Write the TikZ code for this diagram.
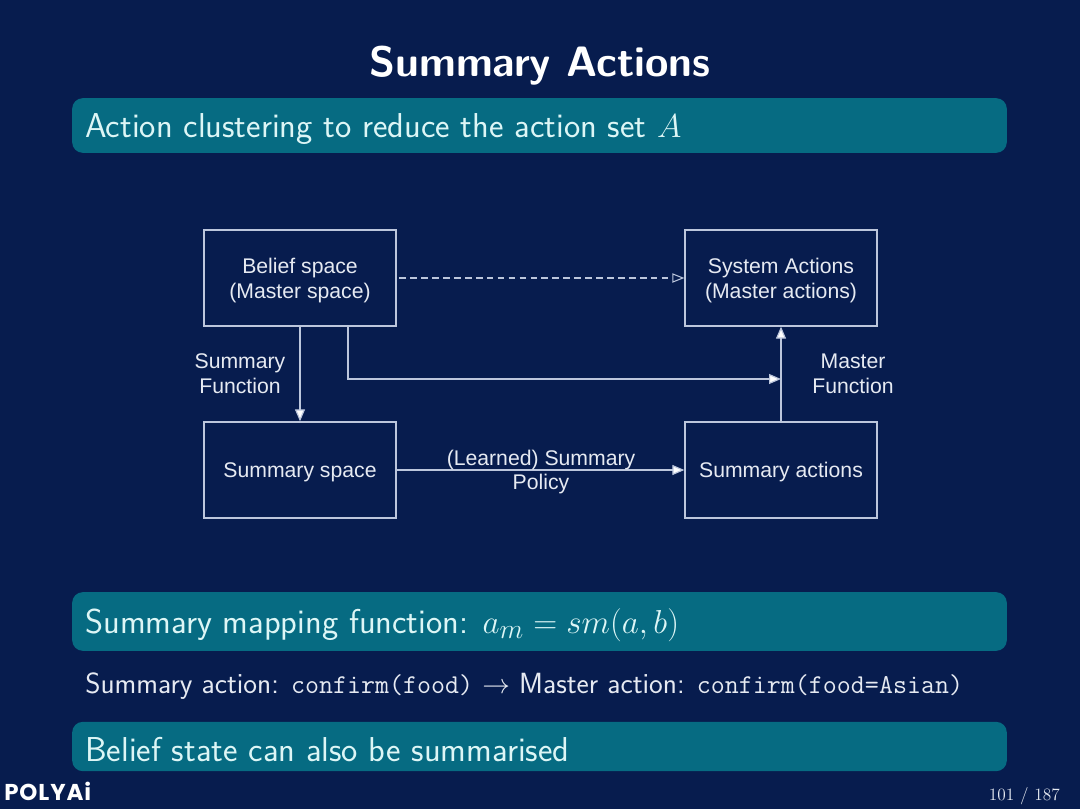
\documentclass[tikz,border=0pt]{standalone}
\usepackage{fontspec}
\usepackage{amsmath}
\usetikzlibrary{arrows.meta,calc}
\newfontfamily\diagfont{Liberation Sans}
\newfontfamily\logofont{Poppins}[UprightFont=* Bold,LetterSpace=4]
\definecolor{bgnavy}{HTML}{071C4E}
\definecolor{bannerteal}{HTML}{066B82}
\definecolor{bannertext}{HTML}{DDF6F6}
\definecolor{boxline}{HTML}{BCC6DC}
\definecolor{difftext}{HTML}{E6EAF2}
\newcommand{\lowerby}[2]{\raisebox{0pt}[\dimexpr\height+#1\relax][\depth]{#2}}
\tikzset{
  x=0.75pt,y=-0.75pt,
  banner/.style={fill=bannerteal,draw=none,rounded corners=8pt,inner sep=0pt},
  bannerlabel/.style={anchor=west,inner sep=0pt,text=bannertext,font=\sffamily\fontsize{25.9}{30}\selectfont},
  diagbox/.style={draw=boxline,line width=1pt,minimum width=144pt,minimum height=72pt,inner sep=0pt,align=center,text=difftext,font=\diagfont\fontsize{15.9}{18.75}\selectfont},
  diaglabel/.style={inner sep=0pt,align=center,text=difftext,font=\diagfont\fontsize{15.9}{18.5}\selectfont},
  flow/.style={draw=boxline,line width=0.9pt,-{Triangle[length=9pt,width=7.5pt,fill=white]}},
  dashflow/.style={draw=boxline,line width=0.8pt,dash pattern=on 5pt off 3.2pt,-{Triangle[open,length=9pt,width=7pt]}},
}
\begin{document}
\begin{tikzpicture}
\useasboundingbox (0,0) rectangle (1080,809);
\fill[bgnavy] (0,0) rectangle (1080,809);
% title
\node[inner sep=0pt,text=white,font=\sffamily\bfseries\fontsize{31.9}{36}\selectfont] (title) at (540,66) {Summary Actions};
% banners
\node[banner,minimum width=701pt,minimum height=41pt] (bar1) at (539.5,125.5) {};
\node[bannerlabel] (bar1text) at (85,129) {Action clustering to reduce the action set $A$};
\node[banner,minimum width=701pt,minimum height=44pt] (bar2) at (539.5,621.5) {};
\node[bannerlabel] (bar2text) at (85,625) {Summary mapping function: {\fontsize{27.6}{30}\selectfont $a_m = sm(a,b)$}};
\node[banner,minimum width=701pt,minimum height=37pt] (bar3) at (539.5,746.5) {};
\node[bannerlabel] (bar3text) at (85,750) {Belief state can also be summarised};
% line of text
\node[anchor=west,inner sep=0pt,text=difftext,font=\sffamily\fontsize{21.9}{25}\selectfont] (mapline) at (85,686) {Summary action: {\fontsize{20.4}{25}\selectfont\texttt{confirm(food)}} $\rightarrow$ Master action: {\fontsize{20.4}{25}\selectfont\texttt{confirm(food=Asian)}}};
% diagram
\node[diagbox] (belief) at (300,278) {\lowerby{3.8pt}{\parbox{140pt}{\centering Belief space\\(Master space)}}};
\node[diagbox] (system) at (781,278) {\lowerby{3.8pt}{\parbox{140pt}{\centering System Actions\\(Master actions)}}};
\node[diagbox] (sumspace) at (300,470) {\lowerby{3pt}{Summary space}};
\node[diagbox] (sumact) at (781,470) {\lowerby{3pt}{Summary actions}};
\coordinate (junction) at (781,379);
\coordinate (tap) at (348,326);
\draw[flow] (belief) -- (sumspace);
\draw[flow] (sumact) -- (system);
\draw[flow] (sumspace) -- (sumact);
\draw[flow] (tap) |- (junction);
\draw[dashflow,shorten <=2pt] (belief) -- (system);
\node[diaglabel] (sumfun) at (240,374) {Summary\\Function};
\node[diaglabel] (masfun) at (853,374) {Master\\Function};
\node[diaglabel] (policy) at (541,472) {(Learned) Summary\\Policy};
% footer
\node[anchor=west,inner sep=0pt,text=white,font=\logofont\fontsize{17.2}{20}\selectfont] (logo) at (4,791) {POLYAi};
\node[anchor=east,inner sep=0pt,text=difftext,font=\rmfamily\fontsize{13}{15}\selectfont] (pagenum) at (1060,796) {101 / 187};
\end{tikzpicture}
\end{document}
